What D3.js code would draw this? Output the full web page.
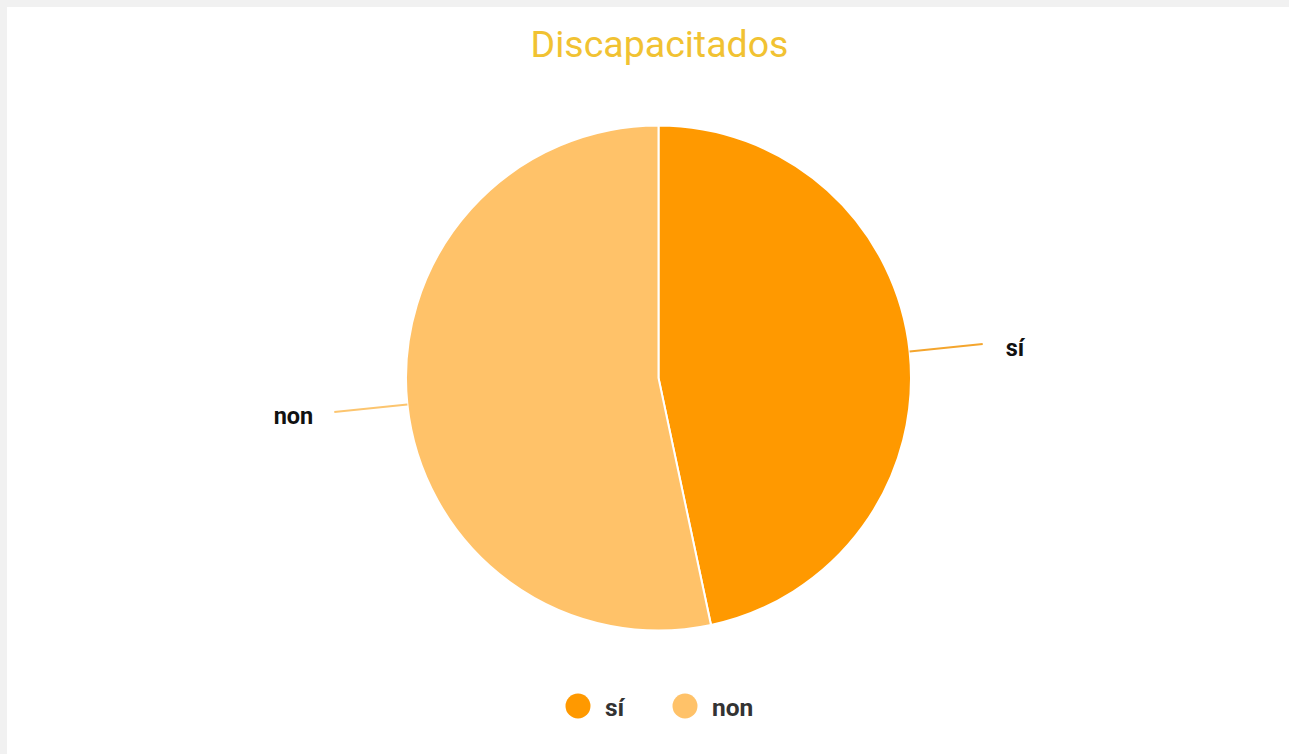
<!DOCTYPE html>
<html>
<head>
<meta charset="utf-8">
<script src="https://cdn.jsdelivr.net/npm/d3@7"></script>
<style>
html,body{margin:0;padding:0;background:#f1f1f1;}
svg{display:block;}
</style>
</head>
<body>
<script>
const title = "Discapacitados";
const categories = ["sí", "non"];
const values = [7, 8];
const colors = ["#ff9900", "#ffc269"];
const leaderColors = ["#f4a52d", "#fcc56f"];

const W = 1289, H = 754;
const svg = d3.select("body").append("svg").attr("width", W).attr("height", H);
svg.append("rect").attr("x", 7).attr("y", 7).attr("width", W - 7).attr("height", H - 7).attr("fill", "#ffffff");

svg.append("text").attr("x", 659.5).attr("y", 57).attr("text-anchor", "middle")
  .attr("font-family", "Roboto").attr("font-size", 37.5).attr("fill", "#f1c232").text(title);

const cx = 658.5, cy = 378, R = 252.5;
const g = svg.append("g").attr("transform", `translate(${cx},${cy})`);
const pie = d3.pie().sort(null).value(d => d.v);
const data = pie(categories.map((c, i) => ({c, v: values[i], i})));
const arc = d3.arc().innerRadius(0).outerRadius(R);
g.selectAll("path.slice").data(data).enter().append("path")
  .attr("d", arc).attr("fill", d => colors[d.data.i])
  .attr("stroke", "#ffffff").attr("stroke-width", 2);

const rOut = 326;
data.forEach(d => {
  const a = (d.startAngle + d.endAngle) / 2;
  const x1 = R * Math.sin(a), y1 = -R * Math.cos(a);
  const x2 = rOut * Math.sin(a), y2 = -rOut * Math.cos(a);
  g.append("line").attr("x1", x1).attr("y1", y1).attr("x2", x2).attr("y2", y2)
    .attr("stroke", leaderColors[d.data.i]).attr("stroke-width", 2);
  const right = Math.sin(a) > 0;
  g.append("text").attr("x", x2 + (right ? 23 : -21)).attr("y", y2 + 12)
    .attr("text-anchor", right ? "start" : "end")
    .attr("font-family", "Roboto").attr("font-weight", "bold").attr("font-size", 23.5)
    .attr("fill", "#111111").text(d.data.c);
});

const legendX = [578, 685];
categories.forEach((c, i) => {
  svg.append("circle").attr("cx", legendX[i]).attr("cy", 706).attr("r", 12.5).attr("fill", colors[i]);
  svg.append("text").attr("x", legendX[i] + 27).attr("y", 716)
    .attr("font-family", "Roboto").attr("font-weight", "bold").attr("font-size", 24.5)
    .attr("fill", "#333333").text(c);
});
</script>
</body>
</html>
